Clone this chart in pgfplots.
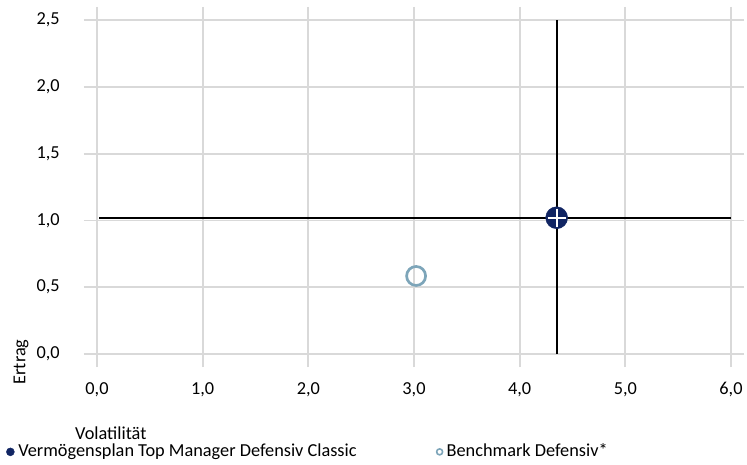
\documentclass[border=0pt]{standalone}
\usepackage{fontspec}
\setmainfont{Carlito}
\usepackage{pgfplots}
\pgfplotsset{compat=1.18}
\definecolor{navy}{RGB}{17,37,99}
\definecolor{bench}{RGB}{125,165,185}
\definecolor{gridc}{RGB}{217,217,217}
\begin{document}
\fontsize{18.3}{22}\selectfont
\begin{tikzpicture}
\useasboundingbox (0,0) rectangle (747pt,464pt);
\begin{axis}[
 at={(97pt,110pt)}, anchor=south west,
 scale only axis, width=634pt, height=334pt,
 xmin=0, xmax=6, ymin=0, ymax=2.5,
 xtick={0,1,2,3,4,5,6}, ytick={0,0.5,1,1.5,2,2.5},
 grid=major, major grid style={gridc, line width=1.8pt},
 axis line style={draw=none},
 tick align=outside, major tick length=13pt,
 tick style={gridc, line width=1.8pt},
 /pgf/number format/.cd, fixed, fixed zerofill, precision=1, use comma, assume math mode=true,
 /pgfplots/.cd,
 ticklabel style={font=\fontsize{18.3}{22}\selectfont},
 xticklabel style={yshift=-9pt},
 yticklabel style={xshift=-18pt},
 clip=false,
 legend style={at={(-0.148,-0.293)}, anchor=west, draw=none, fill=none,
   font=\fontsize{18.3}{22}\selectfont, legend columns=2,
   /tikz/every odd column/.append style={column sep=2pt},
   /tikz/every even column/.append style={column sep=78pt}},
 legend image code/.code={\draw[#1] plot coordinates {(0pt,0pt)};},
]
\addplot[black, line width=1.8pt, forget plot] coordinates {(0.02,1.02) (6,1.02)};
\addplot[black, line width=1.8pt, forget plot] coordinates {(4.35,0) (4.35,2.5)};
\addplot[only marks, mark=*, mark size=11pt, navy, mark options={draw=navy}, forget plot] coordinates {(4.35,1.02)};
\addplot[only marks, mark=+, mark size=9pt, white, line width=1.8pt, forget plot] coordinates {(4.35,1.02)};
\addplot[only marks, mark=o, mark size=9.5pt, bench, line width=2.7pt, forget plot] coordinates {(3.02,0.584)};
\addlegendimage{only marks, mark=*, mark size=4pt, navy}
\addlegendentry{Vermögensplan Top Manager Defensiv Classic}
\addlegendimage{only marks, mark=o, mark size=3pt, bench, line width=1.6pt}
\addlegendentry{Benchmark Defensiv*}
\end{axis}
\node[rotate=90] at (21pt,102pt) {Ertrag};
\node[anchor=west, inner sep=0pt] at (75pt,31pt) {Volatilität};
\end{tikzpicture}
\end{document}
